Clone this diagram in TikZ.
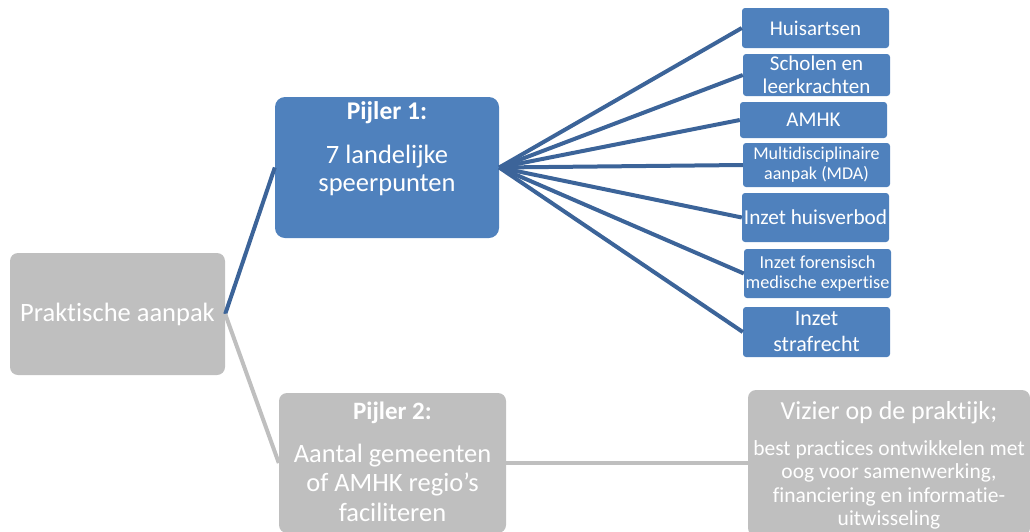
\documentclass[tikz,border=0pt]{standalone}
\usepackage{fontspec}
\setmainfont{Carlito}[Ligatures={NoCommon}]
\definecolor{pijlerblauw}{HTML}{4F81BD}
\definecolor{lijnblauw}{HTML}{3C6499}
\definecolor{pijlergrijs}{HTML}{BFBFBF}
\tikzset{
	blauwblok/.style={fill=pijlerblauw, rounded corners=3pt, text=white, align=center, inner sep=0pt},
	grijsblok/.style={fill=pijlergrijs, rounded corners=8pt, text=white, align=center, inner sep=0pt},
	tekst/.style={text=white, align=center, inner sep=0pt},
	blauwlijn/.style={draw=lijnblauw, line width=4pt},
	grijslijn/.style={draw=pijlergrijs, line width=4pt}
}
\begin{document}
\begin{tikzpicture}[x=1pt, y=-1pt]
	\useasboundingbox (0,0) rectangle (1030,531);
	\node[grijsblok, minimum width=215pt, minimum height=122pt, font=\fontsize{26.5}{30}\selectfont] (Praktische aanpak) at (117.5, 314) {Praktische aanpak};
	\node[blauwblok, rounded corners=10pt, minimum width=224pt, minimum height=141pt] (Pijler 1) at (387, 167.5) {};
	\node[tekst, font=\bfseries\fontsize{25.5}{28}\selectfont] (Pijler 1 titel) at (387, 113) {Pijler 1:};
	\node[tekst, font=\fontsize{26.5}{28}\selectfont] (Pijler 1 tekst) at (387, 170.5) {7 landelijke\\speerpunten};
	\node[grijsblok, minimum width=227pt, minimum height=140pt] (Pijler 2) at (392.5, 463) {};
	\node[tekst, font=\bfseries\fontsize{25}{28}\selectfont] (Pijler 2 titel) at (392.5, 413) {Pijler 2:};
	\node[tekst, font=\fontsize{26.5}{29.5}\selectfont] (Pijler 2 tekst) at (392.5, 482.5) {Aantal gemeenten\\of AMHK regio’s\\faciliteren};
	\node[grijsblok, minimum width=282pt, minimum height=146pt] (Vizier) at (889, 463) {};
	\node[tekst, font=\fontsize{26}{28}\selectfont] (Vizier titel) at (889, 413) {Vizier op de praktijk;};
	\node[tekst, font=\fontsize{21.5}{23.5}\selectfont] (Vizier tekst) at (889, 485) {best practices ontwikkelen met\\oog voor samenwerking,\\financiering en informatie-\\uitwisseling};
	\node[blauwblok, minimum width=147pt, minimum height=40pt, font=\fontsize{21}{23}\selectfont] (Huisartsen) at (815.5, 28) {Huisartsen};
	\node[blauwblok, minimum width=147pt, minimum height=42pt, font=\fontsize{21}{23}\selectfont] (Scholen) at (816.5, 75) {Scholen en\\leerkrachten};
	\node[blauwblok, minimum width=147pt, minimum height=36pt, font=\fontsize{21}{23}\selectfont] (AMHK) at (813.5, 120) {AMHK};
	\node[blauwblok, minimum width=147pt, minimum height=44pt, font=\fontsize{18}{20}\selectfont] (MDA) at (816.5, 165) {Multidisciplinaire\\aanpak (MDA)};
	\node[blauwblok, minimum width=147pt, minimum height=49pt, font=\fontsize{21.3}{23}\selectfont] (Huisverbod) at (815.5, 217.5) {Inzet huisverbod};
	\node[blauwblok, minimum width=147pt, minimum height=49pt, font=\fontsize{18.3}{20}\selectfont] (Forensisch) at (817.5, 273.5) {Inzet forensisch\\medische expertise};
	\node[blauwblok, minimum width=147pt, minimum height=50pt, font=\fontsize{22}{26}\selectfont] (Strafrecht) at (816.5, 332) {Inzet\\strafrecht};
	\draw[blauwlijn] (Praktische aanpak.east) -- (Pijler 1.west);
	\draw[grijslijn] (Praktische aanpak.east) -- (Pijler 2.west);
	\draw[grijslijn] (Pijler 2.east) -- (Vizier.west);
	\foreach \doel in {Huisartsen, Scholen, AMHK, MDA, Huisverbod, Forensisch, Strafrecht}
		\draw[blauwlijn] (Pijler 1.east) -- (\doel.west);
\end{tikzpicture}
\end{document}
